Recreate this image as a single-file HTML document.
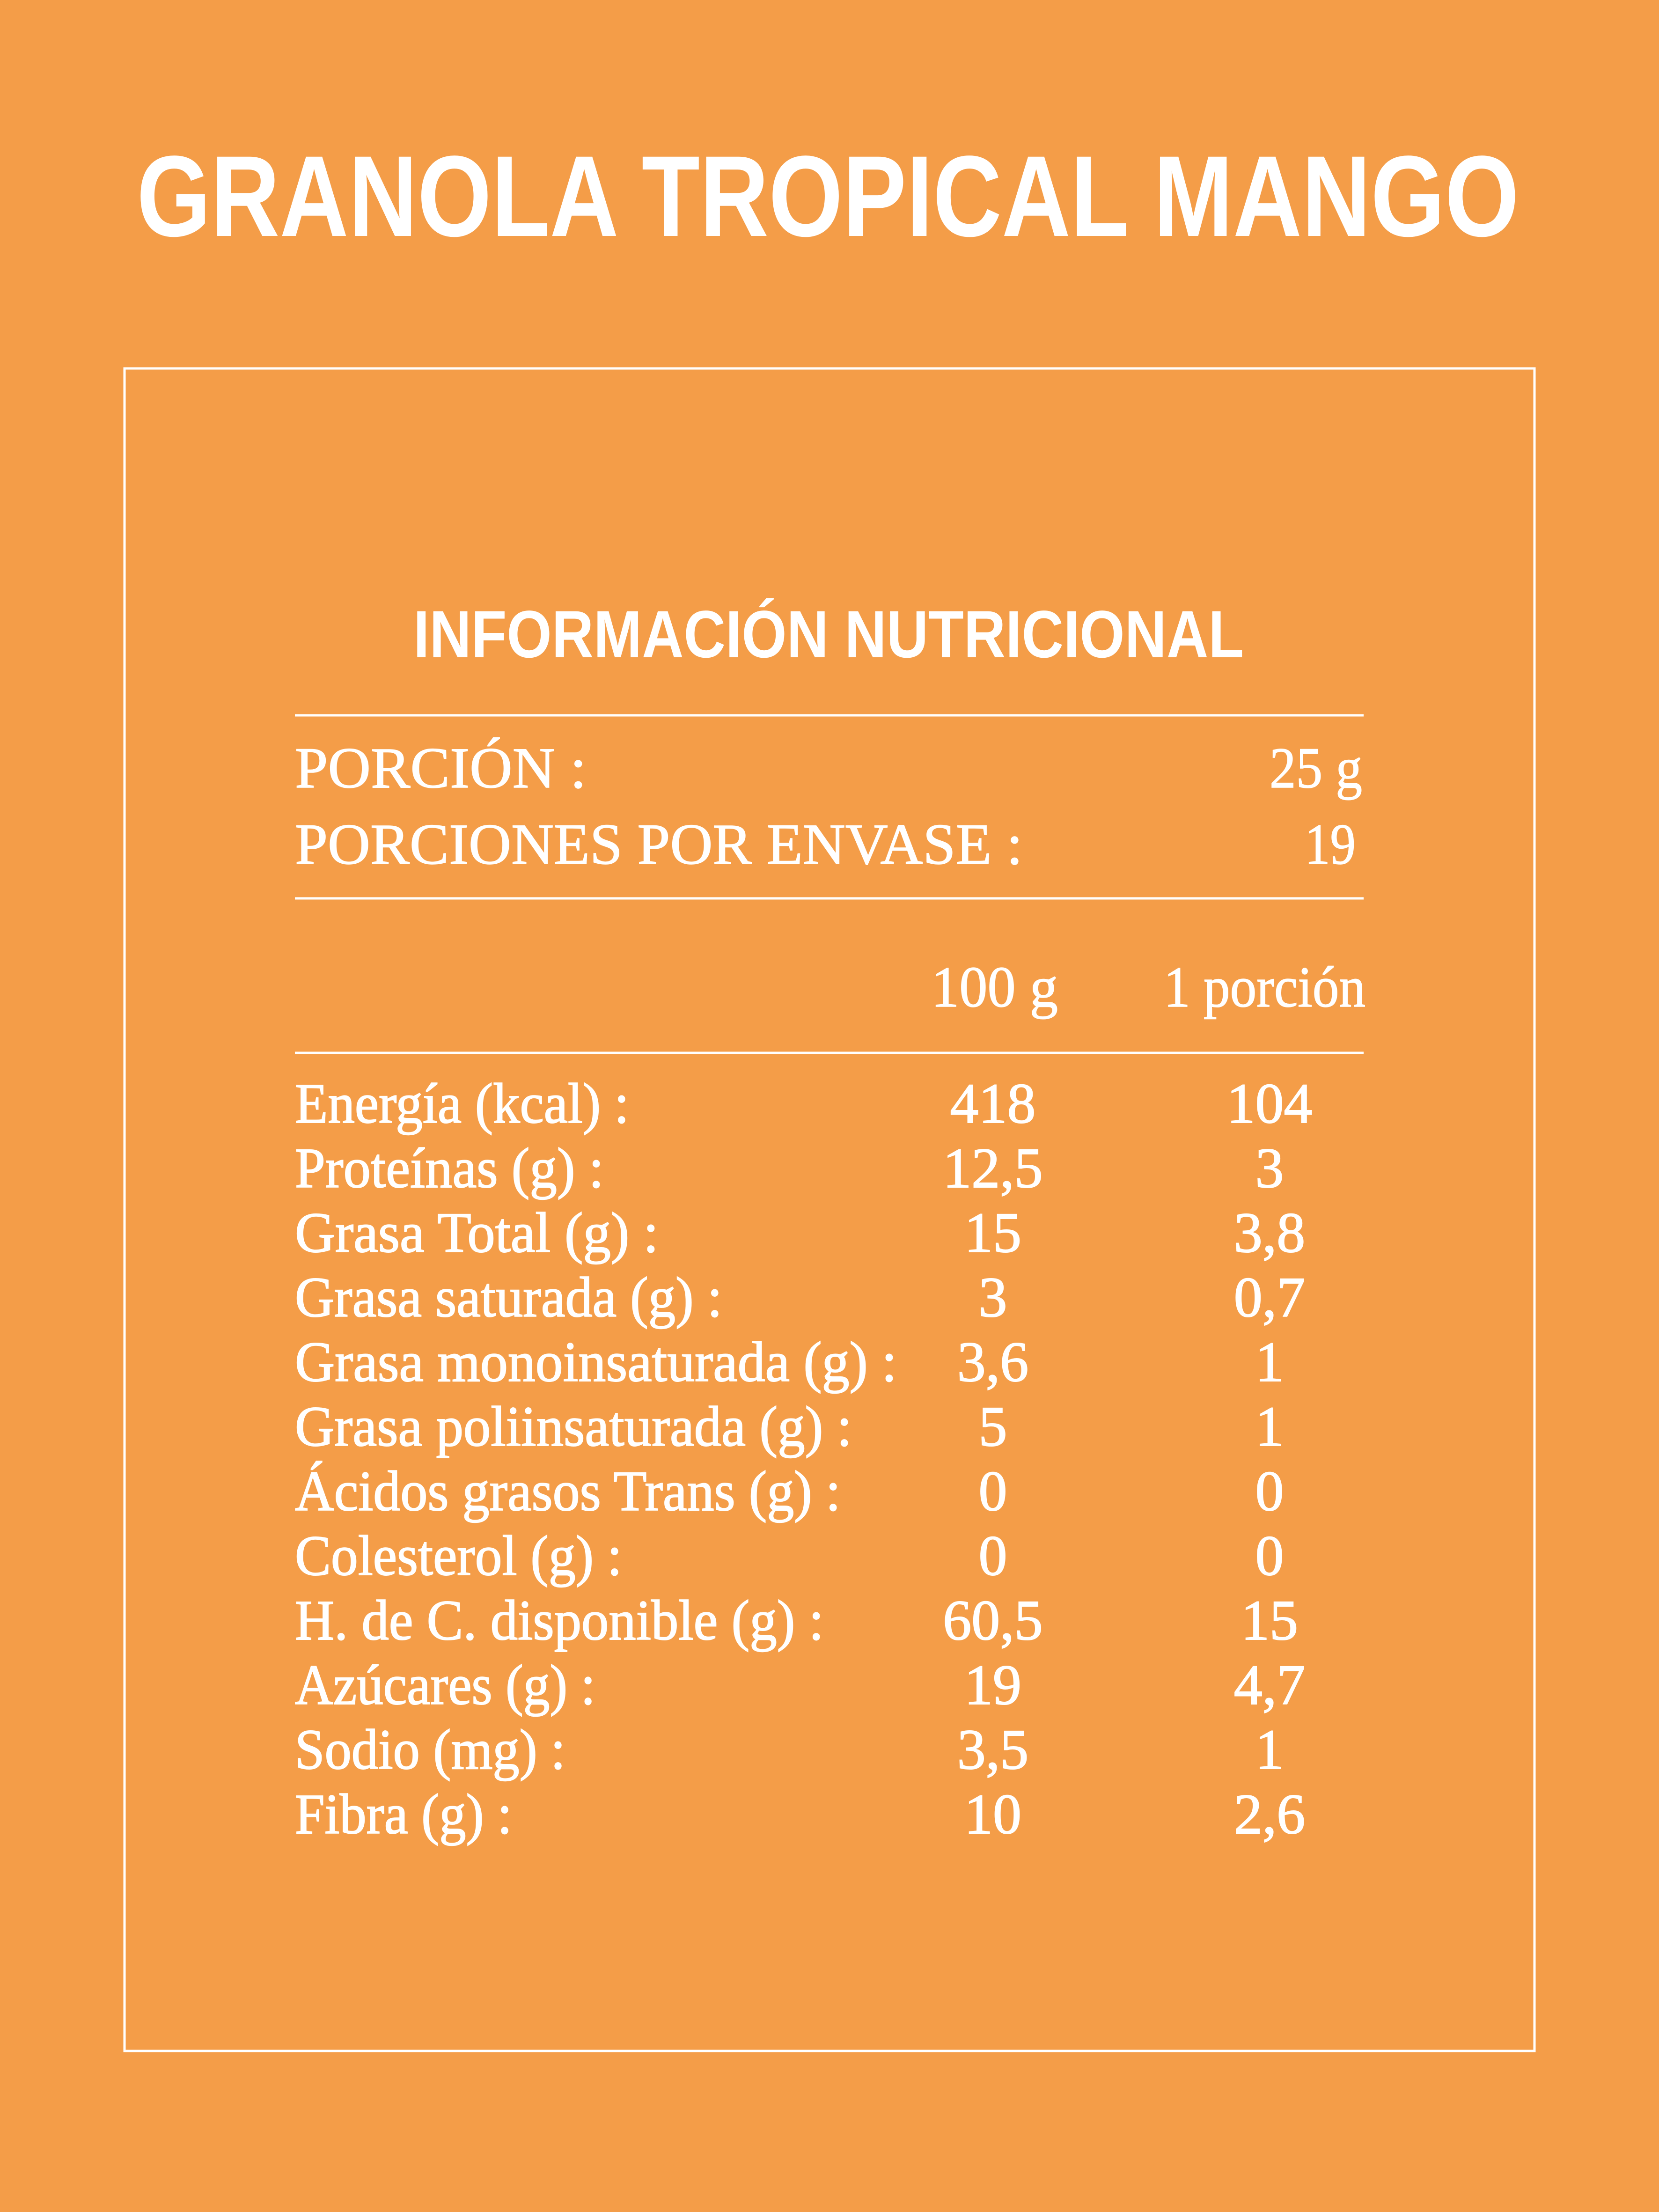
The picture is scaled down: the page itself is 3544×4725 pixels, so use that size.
<!DOCTYPE html>
<html><head><meta charset="utf-8"><style>
html,body{margin:0;padding:0;background:#F49D48;}
svg{display:block;}
</style></head><body>
<svg xmlns="http://www.w3.org/2000/svg" width="3544" height="4725" viewBox="0 0 3544 4725">
<rect width="3544" height="4725" fill="#F49D48"/>
<g fill="#fff" font-family="Liberation Sans, sans-serif" font-weight="bold">
<text x="292" y="504" font-size="246" textLength="2953" lengthAdjust="spacingAndGlyphs">GRANOLA TROPICAL MANGO</text>
<text x="883" y="1404" font-size="143" textLength="1774" lengthAdjust="spacingAndGlyphs">INFORMACIÓN NUTRICIONAL</text>
</g>
<rect x="266" y="787" width="3012" height="3594" fill="none" stroke="#fff" stroke-width="5"/>
<g stroke="#fff" stroke-width="5">
<line x1="630" y1="1528" x2="2913" y2="1528"/>
<line x1="630" y1="1919" x2="2913" y2="1919"/>
<line x1="630" y1="2249" x2="2913" y2="2249"/>
</g>
<g fill="#fff" stroke="#fff" stroke-width="1.5" font-family="Liberation Serif, serif" font-size="124">
<text x="630" y="1682" textLength="623" lengthAdjust="spacingAndGlyphs">PORCIÓN :</text>
<text x="2712" y="1682" textLength="198" lengthAdjust="spacingAndGlyphs">25 g</text>
<text x="630" y="1845" textLength="1555" lengthAdjust="spacingAndGlyphs">PORCIONES POR ENVASE :</text>
<text x="2787" y="1845" textLength="109" lengthAdjust="spacingAndGlyphs">19</text>
<text x="1989" y="2150" textLength="271" lengthAdjust="spacingAndGlyphs">100  g</text>
<text x="2486" y="2150" textLength="431" lengthAdjust="spacingAndGlyphs">1 porción</text>
</g>
<g fill="#fff" stroke="#fff" stroke-width="2" font-family="Liberation Serif, serif" font-size="122">
<text x="630" y="2398" textLength="714" lengthAdjust="spacingAndGlyphs">Energía (kcal) :</text>
<text x="630" y="2536" textLength="660" lengthAdjust="spacingAndGlyphs">Proteínas (g) :</text>
<text x="630" y="2674" textLength="777" lengthAdjust="spacingAndGlyphs">Grasa Total (g) :</text>
<text x="630" y="2812" textLength="913" lengthAdjust="spacingAndGlyphs">Grasa saturada (g) :</text>
<text x="630" y="2950" textLength="1286" lengthAdjust="spacingAndGlyphs">Grasa monoinsaturada (g) :</text>
<text x="630" y="3088" textLength="1190" lengthAdjust="spacingAndGlyphs">Grasa poliinsaturada (g) :</text>
<text x="630" y="3226" textLength="1166" lengthAdjust="spacingAndGlyphs">Ácidos grasos Trans (g) :</text>
<text x="630" y="3364" textLength="699" lengthAdjust="spacingAndGlyphs">Colesterol (g) :</text>
<text x="630" y="3502" textLength="1130" lengthAdjust="spacingAndGlyphs">H. de C. disponible (g) :</text>
<text x="630" y="3640" textLength="642" lengthAdjust="spacingAndGlyphs">Azúcares (g) :</text>
<text x="630" y="3778" textLength="578" lengthAdjust="spacingAndGlyphs">Sodio (mg) :</text>
<text x="630" y="3916" textLength="464" lengthAdjust="spacingAndGlyphs">Fibra (g) :</text>
</g>
<g fill="#fff" stroke="#fff" stroke-width="2" font-family="Liberation Serif, serif" font-size="122" text-anchor="middle">
<text x="2121" y="2398">418</text><text x="2712" y="2398">104</text>
<text x="2121" y="2536">12,5</text><text x="2712" y="2536">3</text>
<text x="2121" y="2674">15</text><text x="2712" y="2674">3,8</text>
<text x="2121" y="2812">3</text><text x="2712" y="2812">0,7</text>
<text x="2121" y="2950">3,6</text><text x="2712" y="2950">1</text>
<text x="2121" y="3088">5</text><text x="2712" y="3088">1</text>
<text x="2121" y="3226">0</text><text x="2712" y="3226">0</text>
<text x="2121" y="3364">0</text><text x="2712" y="3364">0</text>
<text x="2121" y="3502">60,5</text><text x="2712" y="3502">15</text>
<text x="2121" y="3640">19</text><text x="2712" y="3640">4,7</text>
<text x="2121" y="3778">3,5</text><text x="2712" y="3778">1</text>
<text x="2121" y="3916">10</text><text x="2712" y="3916">2,6</text>
</g>
</svg>
</body></html>
